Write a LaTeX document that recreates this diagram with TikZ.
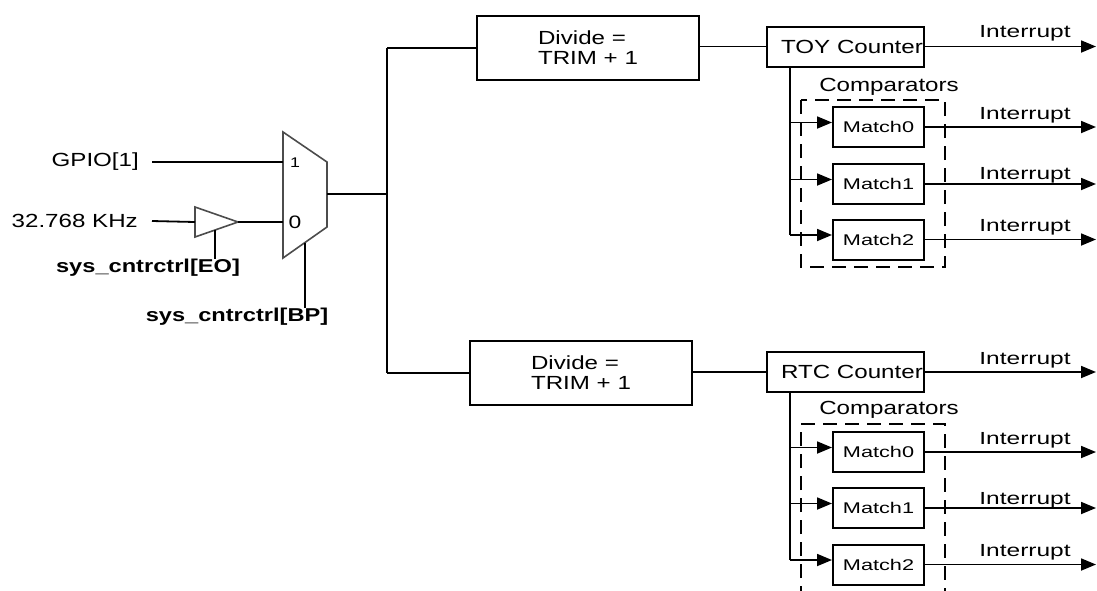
\documentclass[tikz,border=0pt]{standalone}
\usepackage{fontspec}
\newfontfamily\fA{Liberation Sans}[FakeStretch=1.27]
\newfontfamily\fB{Liberation Sans}[FakeStretch=1.4]
\usetikzlibrary{arrows.meta}
\begin{document}
\begin{tikzpicture}[x=1pt,y=-1pt,
  wire/.style={line width=1.8pt},
  arr/.style={wire,-{Triangle[length=15pt,width=12pt]}},
  blk/.style={draw,line width=2pt,inner sep=0pt,font=\fA\fontsize{19}{20}\selectfont},
  divbox/.style={blk,minimum width=222pt,minimum height=64pt,align=left},
  cntbox/.style={blk,minimum width=157pt,minimum height=40pt},
  matchbox/.style={draw,line width=2pt,inner sep=0pt,minimum width=91pt,minimum height=40pt,font=\fB\fontsize{15.5}{16}\selectfont},
  txt/.style={inner sep=0pt,font=\fA\fontsize{19}{20}\selectfont},
  btxt/.style={inner sep=0pt,font=\fA\bfseries\fontsize{18.6}{20}\selectfont},
  itxt/.style={inner sep=0pt,font=\fB\fontsize{17.5}{18}\selectfont},
  dbox/.style={line width=1.8pt,dash pattern=on 14pt off 8pt},
  gate/.style={draw=black!70,line width=1.6pt,fill=white}]
\useasboundingbox (0,0) rectangle (1097,590);
\clip (0,0) rectangle (1097,590);

% ---------- left part ----------
\node[txt,anchor=east] (gpio) at (139,162) {GPIO[1]};
\node[txt,anchor=east] (osc) at (138,221) {32.768 KHz};
\node[btxt] (eolab) at (148,268) {sys\_cntrctrl[EO]};
\node[btxt] (bplab) at (237,317) {sys\_cntrctrl[BP]};

% buffer
\draw[gate] (195,207) -- (238,222) -- (195,237) -- cycle;
\coordinate (bi) at (195,222);
\coordinate (bo) at (238,222);
\coordinate (eo) at (215,230);
% mux
\draw[gate] (283,132) -- (327,162) -- (327,227) -- (283,258) -- cycle;
\coordinate (mi1) at (283,162);
\coordinate (mi0) at (283,222);
\coordinate (mo) at (327,194);
\coordinate (bp) at (305,242.5);
\node[inner sep=0pt,font=\fA\fontsize{14}{15}\selectfont] (l1) at (295,163) {1};
\node[inner sep=0pt,font=\fA\fontsize{18}{19}\selectfont] (l0) at (295,222) {0};

\draw[wire] ([xshift=13pt]gpio.east) -- (mi1);
\draw[wire] ([xshift=14pt]osc.east) -- (bi);
\draw[wire] (bo) -- (mi0);
\draw[wire] (eo) -- (eo |- eolab.north);
\draw[wire] (bp) -- (bp |- bplab.north);

% bus
\coordinate (bus) at (387,194);
\draw[wire] (mo) -- (bus);

% ---------- divider boxes ----------
\node[divbox] (div1) at (588,48) {Divide =\\TRIM + 1};
\node[divbox] (div2) at (581,373) {Divide =\\TRIM + 1};
\draw[wire] (div1.west -| bus) -- (div2.west -| bus);
\draw[wire] (div1.west -| bus) -- (div1.west);
\draw[wire] (div2.west -| bus) -- (div2.west);

% ---------- counters ----------
\node[cntbox] (toy) at (845.5,46.5) {\hspace*{13pt}TOY Counter};
\node[cntbox] (rtc) at (845.5,372) {\hspace*{13pt}RTC Counter};
\draw[wire] (div1.east |- toy.west) -- (toy.west);
\draw[wire] (div2.east |- rtc.west) -- (rtc.west);

\coordinate (edge) at (1096,0);

% ---------- top comparators ----------
\node[txt] (compA) at (889,87) {Comparators};
\draw[dbox] (801,100) rectangle (945,267);
\node[matchbox] (m0a) at (878.5,127) {Match0};
\node[matchbox] (m1a) at (878.5,184) {Match1};
\node[matchbox] (m2a) at (878.5,239.5) {Match2};
\coordinate (ta) at (790,66.5);
\draw[wire] (ta) -- ([yshift=4.5pt]m2a.west -| ta);
\foreach \m in {m0a,m1a,m2a}{
  \draw[arr] ([yshift=4.5pt]\m.west -| ta) -- ([yshift=4.5pt]\m.west);
}

% ---------- bottom comparators ----------
\node[txt] (compB) at (889,410) {Comparators};
\draw[dbox] (801,600) -- (801,424) -- (945,424) -- (945,600);
\node[matchbox] (m0b) at (878.5,452) {Match0};
\node[matchbox] (m1b) at (878.5,508) {Match1};
\node[matchbox] (m2b) at (878.5,564.5) {Match2};
\coordinate (tb) at (790,392);
\draw[wire] (tb) -- ([yshift=4.5pt]m2b.west -| tb);
\foreach \m in {m0b,m1b,m2b}{
  \draw[arr] ([yshift=4.5pt]\m.west -| tb) -- ([yshift=4.5pt]\m.west);
}

% ---------- interrupts ----------
\foreach \src/\ly in {toy/33,m0a/115,m1a/175,m2a/227,rtc/360,m0b/440,m1b/500,m2b/552}{
  \draw[arr] (\src.east) -- (\src.east -| edge);
  \node[itxt] (int-\src) at (1025,\ly) {Interrupt};
}
\end{tikzpicture}
\end{document}
